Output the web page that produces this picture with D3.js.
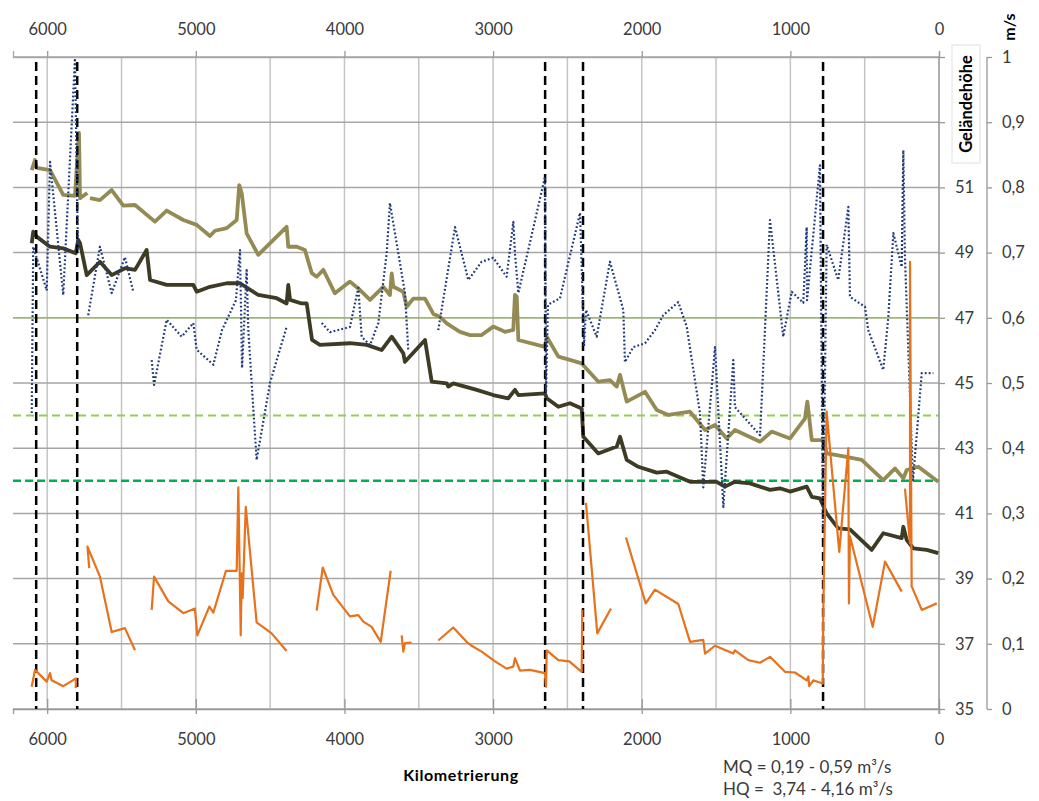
<!DOCTYPE html>
<html>
<head>
<meta charset="utf-8">
<script src="https://cdn.jsdelivr.net/npm/d3@7"></script>
<style>
  body { margin: 0; background: #fff; }
  svg { display: block; }
  text { font-family: Lato, "Open Sans", "DejaVu Sans", sans-serif; }
</style>
</head>
<body>
<svg id="chart" width="1039" height="801"></svg>
<script>
// ---- Data (km along the river, value) ; null marks a gap ----
const kmTicks = [6000, 5000, 4000, 3000, 2000, 1000, 0];
const kmGrid = [6000, 5500, 5000, 4500, 4000, 3500, 3000, 2500, 2000, 1500, 1000, 500, 0];
const elevTicks = [35, 37, 39, 41, 43, 45, 47, 49, 51, 53, 55];
const velTicks = [0, 0.1, 0.2, 0.3, 0.4, 0.5, 0.6, 0.7, 0.8, 0.9, 1];

// section boundaries (km)
const sectionKm = [6074, 5798, 2650, 2395, 780];

// reference levels (m)
const levelSolid = 47;
const levelDashedLight = 44;
const levelDashedDark = 42;

// upper terrain line (m)
const terrainUpper = [
  [6104,51.53],[6082,51.84],[6071,51.60],[5981,51.53],[5892,50.77],[5813,50.74],[5786,52.67],[5779,50.67],[5730,50.83],null,
  [5712,50.67],[5645,50.61],[5566,50.92],[5488,50.44],[5409,50.46],[5275,49.95],[5196,50.29],[5084,50.00],[4994,49.85],
  [4905,49.51],[4871,49.67],[4792,49.75],[4725,50.00],[4708,51.07],[4691,50.82],[4658,49.59],[4580,48.93],[4389,49.79],
  [4378,49.18],[4321,49.18],[4266,49.08],[4220,48.37],[4187,48.26],[4142,48.47],[4064,47.75],[3963,48.11],[3907,47.90],
  [3828,47.55],[3739,47.95],[3694,47.70],[3682,48.36],[3671,47.95],[3604,47.80],[3581,47.34],[3537,47.59],[3458,47.59],
  [3402,47.12],[3357,47.03],[3312,46.83],[3223,46.57],[3155,46.47],[3077,46.47],[2999,46.73],[2920,46.57],[2864,46.63],
  [2853,47.70],[2841,47.65],[2830,46.32],[2651,46.11],[2639,46.42],[2561,45.81],[2483,45.71],[2404,45.60],[2292,45.04],
  [2214,45.09],[2168,44.89],[2146,45.25],[2101,44.43],[1978,44.73],[1899,44.17],[1821,44.02],[1675,44.12],[1574,43.56],
  [1507,43.71],[1428,43.30],[1373,43.56],[1204,43.20],[1126,43.51],[1002,43.30],[902,43.91],[886,44.43],[856,43.25],
  [778,43.25],[756,42.84],[632,42.74],[520,42.64],[375,42.02],[296,42.38],[240,42.08],[217,42.33],[139,42.43],[5,41.97]
];

// lower terrain line (m)
const terrainLower = [
  [6104,49.29],[6094,49.64],[6071,49.49],[5981,49.18],[5892,49.13],[5808,48.98],[5791,49.39],[5779,49.29],[5734,48.31],
  [5645,48.72],[5566,48.31],[5477,48.52],[5409,48.47],[5331,49.08],[5308,48.16],[5196,48.01],[5017,48.01],[4994,47.80],
  [4905,47.95],[4792,48.06],[4703,48.06],[4580,47.70],[4456,47.60],[4389,47.44],[4378,48.01],[4366,47.55],[4288,47.44],
  [4254,47.44],[4218,46.32],[4165,46.17],[3963,46.22],[3850,46.17],[3750,46.01],[3682,46.42],[3604,45.91],[3593,45.65],
  [3458,46.32],[3413,45.04],[3312,44.99],[3301,44.89],[3268,44.99],[3110,44.79],[2999,44.63],[2898,44.53],[2853,44.79],
  [2830,44.63],[2651,44.68],[2639,44.53],[2561,44.27],[2483,44.38],[2404,44.22],[2393,43.35],[2292,42.84],[2168,43.05],
  [2146,43.35],[2101,42.64],[2023,42.43],[1899,42.25],[1832,42.28],[1675,41.97],[1586,41.97],[1496,41.97],[1440,41.82],
  [1373,41.97],[1272,41.92],[1137,41.72],[1070,41.77],[1002,41.67],[890,41.82],[856,41.51],[801,41.46],[756,41.00],
  [678,40.54],[599,40.51],[453,39.88],[375,40.39],[251,40.24],[240,40.59],[217,40.18],[173,39.93],[83,39.88],[5,39.78]
];

// dotted velocity series (m/s)
const velocityDotted = [
  [6104,0.454],[6094,0.709],[6003,0.642],[5981,0.839],[5892,0.635],[5813,0.998],[5793,0.704],null,
  [5724,0.604],[5645,0.709],[5566,0.638],[5477,0.693],[5421,0.640],null,
  [5297,0.535],[5281,0.497],[5196,0.597],[5095,0.571],[5017,0.592],[4994,0.551],[4882,0.528],[4824,0.581],[4730,0.627],
  [4703,0.704],[4689,0.523],[4658,0.673],[4647,0.581],[4591,0.382],[4501,0.500],[4456,0.535],[4389,0.586],null,
  [4153,0.592],[4097,0.578],[3996,0.584],[3963,0.586],[3907,0.646],[3884,0.571],[3828,0.558],[3772,0.592],[3716,0.699],
  [3694,0.776],[3593,0.638],[3571,0.551],null,
  [3369,0.581],[3256,0.739],[3167,0.658],[3077,0.686],[2999,0.692],[2909,0.663],[2864,0.747],[2853,0.699],[2830,0.638],
  [2651,0.816],[2644,0.485],[2631,0.620],[2550,0.630],[2415,0.761],[2388,0.558],[2375,0.612],[2303,0.571],[2214,0.686],
  [2124,0.612],[2113,0.532],[2057,0.555],[1978,0.561],[1911,0.581],[1855,0.604],[1754,0.624],[1697,0.586],[1608,0.454],
  [1586,0.340],[1507,0.555],[1451,0.310],[1384,0.535],[1373,0.463],[1204,0.420],[1171,0.581],[1137,0.750],[1048,0.571],
  [991,0.640],[913,0.623],[890,0.739],[888,0.627],[801,0.834],[780,0.275],[756,0.712],[678,0.658],[610,0.770],[599,0.632],
  [498,0.617],[476,0.581],[375,0.520],[341,0.601],[307,0.730],[251,0.678],[240,0.857],[229,0.693],[175,0.351],[116,0.515],
  [38,0.515]
];

// solid velocity series (m/s)
const velocitySolid = [
  [6104,0.034],[6082,0.060],[6003,0.042],[5981,0.055],[5970,0.044],[5892,0.035],[5806,0.047],[5808,0.032],null,
  [5717,0.216],[5729,0.249],[5645,0.203],[5566,0.118],[5477,0.124],[5409,0.090],null,
  [5297,0.152],[5281,0.203],[5185,0.165],[5084,0.147],[5006,0.154],[4990,0.113],[4909,0.157],[4882,0.148],[4797,0.212],
  [4725,0.212],[4714,0.340],[4698,0.113],[4691,0.208],[4685,0.170],[4664,0.310],[4591,0.133],[4490,0.116],[4389,0.089],null,
  [4187,0.151],[4146,0.217],[4075,0.175],[3963,0.142],[3907,0.144],[3873,0.134],[3817,0.126],[3756,0.103],[3689,0.212],null,
  [3615,0.113],[3604,0.088],[3593,0.101],[3548,0.102],null,
  [3369,0.105],[3268,0.125],[3178,0.103],[3144,0.097],[3077,0.088],[2987,0.073],[2909,0.062],[2864,0.065],[2853,0.078],
  [2819,0.059],[2752,0.060],[2651,0.055],[2644,0.034],[2639,0.090],[2561,0.075],[2487,0.073],[2404,0.057],[2400,0.152],null,
  [2375,0.316],[2299,0.116],[2207,0.154],null,
  [2106,0.263],[1973,0.162],[1911,0.183],[1754,0.161],[1675,0.103],[1586,0.106],[1574,0.085],[1507,0.097],[1384,0.085],
  [1373,0.090],[1283,0.075],[1204,0.071],[1137,0.080],[1036,0.057],[969,0.056],[890,0.044],[879,0.050],[873,0.035],
  [846,0.044],[782,0.039],[779,0.142],[756,0.456],[671,0.241],[610,0.400],[606,0.162],[599,0.265],[446,0.126],[363,0.226],
  [251,0.180],null,
  [229,0.338],[195,0.254],[195,0.686],[184,0.188],[116,0.152],[15,0.162]
];

const noteLines = ["MQ = 0,19 - 0,59 m\u00B3/s", "HQ =\u00A0 3,74 - 4,16 m\u00B3/s"];

// ---- Layout ----
const plot = { left: 13, right: 939, top: 57, bottom: 709 };
const svg = d3.select("#chart");

const x = d3.scaleLinear().domain([6230, 0]).range([plot.left, plot.right]);
const yElev = d3.scaleLinear().domain([35, 55]).range([plot.bottom, plot.top]);
const yVel = d3.scaleLinear().domain([0, 1]).range([plot.bottom, plot.top]);

const textColor = "#3a3a3a";

// gridlines
const grid = svg.append("g");
grid.selectAll("line.v").data(kmGrid).join("line")
  .attr("x1", d => x(d)).attr("x2", d => x(d))
  .attr("y1", plot.top).attr("y2", plot.bottom)
  .attr("stroke", "#c4c4c4").attr("stroke-width", 1.5);
grid.selectAll("line.h").data(elevTicks).join("line")
  .attr("x1", plot.left).attr("x2", plot.right)
  .attr("y1", d => yElev(d)).attr("y2", d => yElev(d))
  .attr("stroke", "#a6a6a6").attr("stroke-width", 1.5);

// reference levels
svg.append("line")
  .attr("x1", plot.left).attr("x2", plot.right)
  .attr("y1", yElev(levelSolid)).attr("y2", yElev(levelSolid))
  .attr("stroke", "#9bbb59").attr("stroke-width", 1.6);
svg.append("line")
  .attr("x1", plot.left).attr("x2", plot.right)
  .attr("y1", yElev(levelDashedLight)).attr("y2", yElev(levelDashedLight))
  .attr("stroke", "#92d050").attr("stroke-width", 2).attr("stroke-dasharray", "8,5");
svg.append("line")
  .attr("x1", plot.left).attr("x2", plot.right)
  .attr("y1", yElev(levelDashedDark)).attr("y2", yElev(levelDashedDark))
  .attr("stroke", "#00b050").attr("stroke-width", 2.5).attr("stroke-dasharray", "8,4");

// axes
const fmtKm = d3.format("d");
const topAxis = svg.append("g").attr("transform", `translate(0,${plot.top})`)
  .call(d3.axisTop(x).tickValues(kmTicks).tickSize(6).tickPadding(16).tickFormat(fmtKm));
const bottomAxis = svg.append("g").attr("transform", `translate(0,${plot.bottom})`)
  .call(d3.axisBottom(x).tickValues(kmTicks).tickSize(5).tickPadding(19).tickFormat(fmtKm));
bottomAxis.selectAll(".tick line").attr("y1", -10);

const elevAxis = svg.append("g").attr("transform", `translate(${plot.right},0)`)
  .call(d3.axisRight(yElev).tickValues(elevTicks).tickSize(6).tickPadding(10));
elevAxis.select(".domain").attr("d", `M0,${plot.top}V${plot.bottom + 5}`);

const fmtVel = d => (d === 0 || d === 1) ? String(d) : d3.format(".1f")(d).replace(".", ",");
const velAxis = svg.append("g").attr("transform", "translate(987,0)")
  .call(d3.axisRight(yVel).tickValues(velTicks).tickSize(5).tickPadding(10).tickFormat(fmtVel));
velAxis.select(".domain").attr("d", `M0,${plot.top}V${plot.bottom}`);

[topAxis, bottomAxis, elevAxis, velAxis].forEach(g => {
  g.selectAll(".domain").attr("stroke", "#999").attr("stroke-width", 1.3);
  g.selectAll(".tick line").attr("stroke", "#999").attr("stroke-width", 1.3);
  g.selectAll("text").attr("fill", textColor).attr("font-size", 16.5)
    .attr("font-family", "Lato, 'Open Sans', sans-serif");
});
topAxis.select(".domain").attr("stroke", "#a6a6a6");

// series lines
const lineElev = d3.line().defined(d => d !== null).x(d => x(d[0])).y(d => yElev(d[1]));
const lineVel = d3.line().defined(d => d !== null).x(d => x(d[0])).y(d => yVel(d[1]));

svg.append("path").datum(terrainUpper).attr("d", lineElev)
  .attr("fill", "none").attr("stroke", "#948a54").attr("stroke-width", 3.8).attr("stroke-linejoin", "round");
svg.append("path").datum(terrainLower).attr("d", lineElev)
  .attr("fill", "none").attr("stroke", "#3d3b24").attr("stroke-width", 3.8).attr("stroke-linejoin", "round");

// section boundaries
svg.selectAll("line.section").data(sectionKm).join("line")
  .attr("x1", d => x(d)).attr("x2", d => x(d))
  .attr("y1", 62).attr("y2", plot.bottom)
  .attr("stroke", "#000").attr("stroke-width", 2.5).attr("stroke-dasharray", "9,5");

svg.append("path").datum(velocityDotted).attr("d", lineVel)
  .attr("fill", "none").attr("stroke", "#1f3a7a").attr("stroke-width", 2.2)
  .attr("stroke-dasharray", "1.8,2.2").attr("stroke-linejoin", "round");
svg.append("path").datum(velocitySolid).attr("d", lineVel)
  .attr("fill", "none").attr("stroke", "#e8711c").attr("stroke-width", 2.2).attr("stroke-linejoin", "round");

// axis titles
const titleBox = svg.append("g").attr("transform", "translate(966,104)");
titleBox.append("rect").attr("x", -14).attr("y", -59).attr("width", 28).attr("height", 118)
  .attr("fill", "#fff").attr("stroke", "#e0e0e0").attr("stroke-width", 1);
titleBox.append("text").attr("transform", "rotate(-90)")
  .attr("text-anchor", "middle").attr("dy", "0.35em")
  .attr("font-size", 16.5).attr("font-weight", "bold").attr("fill", "#000")
  .text("Geländehöhe");

svg.append("text").attr("transform", "translate(1009,27) rotate(-90)")
  .attr("text-anchor", "middle").attr("dy", "0.35em")
  .attr("font-size", 16).attr("font-weight", "bold").attr("fill", "#000")
  .text("m/s");

svg.append("text").attr("x", 461).attr("y", 781)
  .attr("text-anchor", "middle").attr("font-size", 16).attr("font-weight", "bold").attr("fill", "#000")
  .attr("letter-spacing", 0.6)
  .text("Kilometrierung");

svg.selectAll("text.note").data(noteLines).join("text")
  .attr("x", 723).attr("y", (d, i) => 773 + i * 22)
  .attr("font-size", 17).attr("fill", textColor)
  .text(d => d);
</script>
</body>
</html>
